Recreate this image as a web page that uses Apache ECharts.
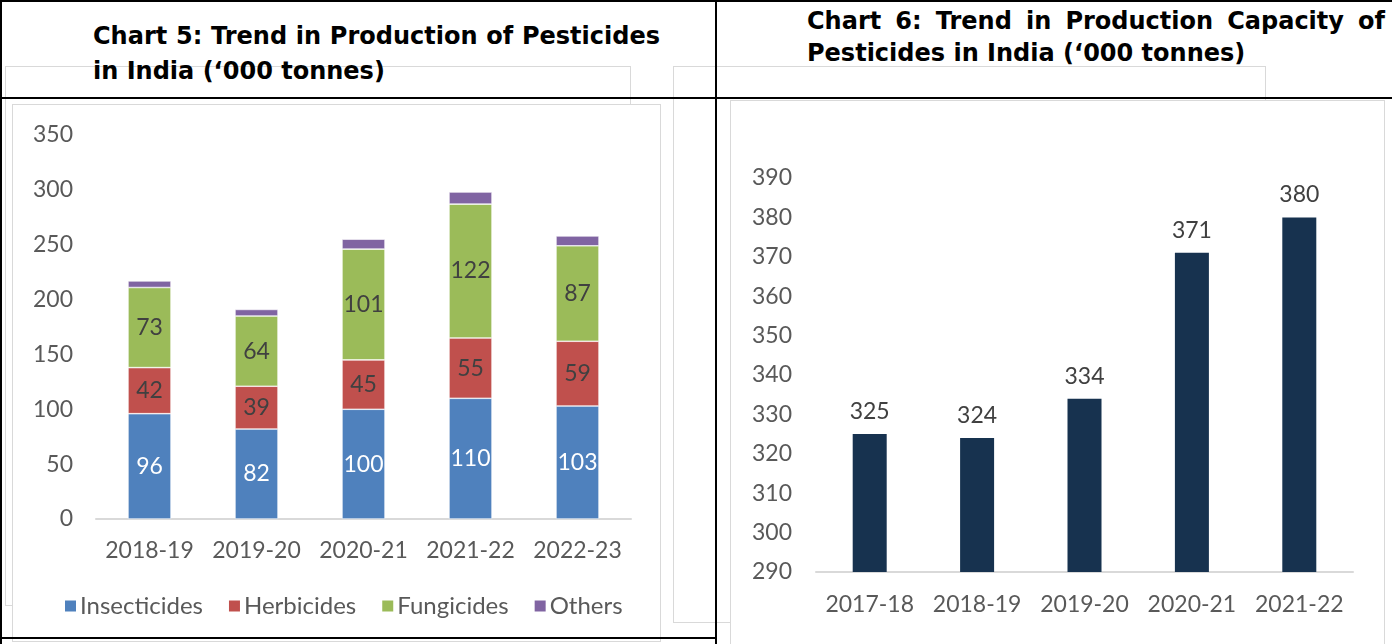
<!DOCTYPE html>
<html>
<head>
<meta charset="utf-8">
<script src="https://cdn.jsdelivr.net/npm/echarts@6/dist/echarts.min.js"></script>
<style>
  html, body { margin: 0; padding: 0; background: #fff; }
  #page { position: relative; width: 1392px; height: 644px; overflow: hidden; }
  .ln { position: absolute; background: #000; }
  .box { position: absolute; border: 1px solid #d9d9d9; background: #fff; box-sizing: border-box; }
  .ttl { position: absolute; font-family: "DejaVu Sans", sans-serif; font-weight: bold; font-size: 24px; line-height: 28px; color: #000; white-space: nowrap; }
  .just { text-align: justify; text-align-last: justify; white-space: normal; }
  #chart { position: absolute; left: 0; top: 0; width: 1392px; height: 644px; }
</style>
</head>
<body>
<div id="page">
  <!-- background boxes -->
  <div class="box" style="left:5px;top:66px;width:626px;height:540px;"></div>
  <div class="box" style="left:673px;top:66px;width:593px;height:557px;"></div>
  <div class="box" style="left:12px;top:104px;width:649px;height:538px;"></div>
  <div class="box" style="left:730px;top:100px;width:655px;height:560px;"></div>

  <!-- table lines -->
  <div class="ln" style="left:0;top:0;width:1392px;height:2px;"></div>
  <div class="ln" style="left:0;top:0;width:2px;height:644px;"></div>
  <div class="ln" style="left:715px;top:0;width:2px;height:644px;"></div>
  <div class="ln" style="left:0;top:97px;width:1392px;height:2px;"></div>
  <div class="ln" style="left:0;top:637px;width:716px;height:2px;"></div>

  <!-- titles -->
  <div class="ttl just" style="left:93px;top:22px;width:567px;">Chart 5: Trend in Production of Pesticides</div>
  <div class="ttl" style="left:93px;top:57px;">in India (‘000 tonnes)</div>
  <div class="ttl just" style="left:807px;top:7px;width:578px;">Chart 6: Trend in Production Capacity of</div>
  <div class="ttl" style="left:807px;top:39px;">Pesticides in India (‘000 tonnes)</div>

  <div id="chart"></div>
</div>
<script>
// chart 5 - production by type
const years5 = ['2018-19', '2019-20', '2020-21', '2021-22', '2022-23'];
const insecticides = [96, 82, 100, 110, 103];
const herbicides = [42, 39, 45, 55, 59];
const fungicides = [73, 64, 101, 122, 87];
const others = [6, 6, 9, 11, 9];

// chart 6 - production capacity
const years6 = ['2017-18', '2018-19', '2019-20', '2020-21', '2021-22'];
const capacity = [325, 324, 334, 371, 380];

const FONT = 'Lato';
const TICK = '#595959';
const LBL = '#404040';

var myChart = echarts.init(document.getElementById('chart'), null, { renderer: 'canvas' });

function stack(name, data, color, labelColor) {
    return {
        name: name,
        type: 'bar',
        stack: 'total',
        xAxisIndex: 0,
        yAxisIndex: 0,
        barWidth: 43,
        data: data,
        itemStyle: { color: color, borderColor: '#fff', borderWidth: 0.6 },
        label: {
            show: labelColor != null,
            position: 'inside',
            color: labelColor,
            fontFamily: FONT,
            fontSize: 23
        },
        emphasis: { disabled: true }
    };
}

myChart.setOption({
    animation: false,
    textStyle: { fontFamily: FONT },
    grid: [
        { left: 96, top: 135, width: 535, height: 384 },
        { left: 816, top: 178, width: 537, height: 394 }
    ],
    legend: {
        left: 58,
        top: 589,
        itemWidth: 13,
        itemHeight: 13,
        itemGap: 24,
        icon: 'rect',
        textStyle: { color: TICK, fontFamily: FONT, fontSize: 24, padding: [0, 0, 0, -2] },
        data: ['Insecticides', 'Herbicides', 'Fungicides', 'Others']
    },
    xAxis: [
        {
            type: 'category', gridIndex: 0, data: years5,
            axisLine: { lineStyle: { color: '#d9d9d9', width: 2 } },
            axisTick: { show: false },
            axisLabel: { interval: 0, color: TICK, fontFamily: FONT, fontSize: 23, margin: 20 }
        },
        {
            type: 'category', gridIndex: 1, data: years6,
            axisLine: { lineStyle: { color: '#d9d9d9', width: 2 } },
            axisTick: { show: false },
            axisLabel: { interval: 0, color: TICK, fontFamily: FONT, fontSize: 23, margin: 21 }
        }
    ],
    yAxis: [
        {
            type: 'value', gridIndex: 0, min: 0, max: 350, interval: 50,
            splitLine: { show: false },
            axisLabel: { color: TICK, fontFamily: FONT, fontSize: 23, margin: 23 }
        },
        {
            type: 'value', gridIndex: 1, min: 290, max: 390, interval: 10,
            splitLine: { show: false },
            axisLabel: { color: TICK, fontFamily: FONT, fontSize: 23, margin: 24 }
        }
    ],
    series: [
        stack('Insecticides', insecticides, '#4f81bd', '#ffffff'),
        stack('Herbicides', herbicides, '#c0504d', LBL),
        stack('Fungicides', fungicides, '#9bbb59', LBL),
        stack('Others', others, '#8064a2', null),
        {
            name: 'Capacity',
            type: 'bar',
            xAxisIndex: 1,
            yAxisIndex: 1,
            barWidth: 34,
            data: capacity,
            itemStyle: { color: '#17324f' },
            label: { show: true, position: 'top', distance: 11, color: LBL, fontFamily: FONT, fontSize: 23 },
            emphasis: { disabled: true }
        }
    ]
});
</script>
</body>
</html>
